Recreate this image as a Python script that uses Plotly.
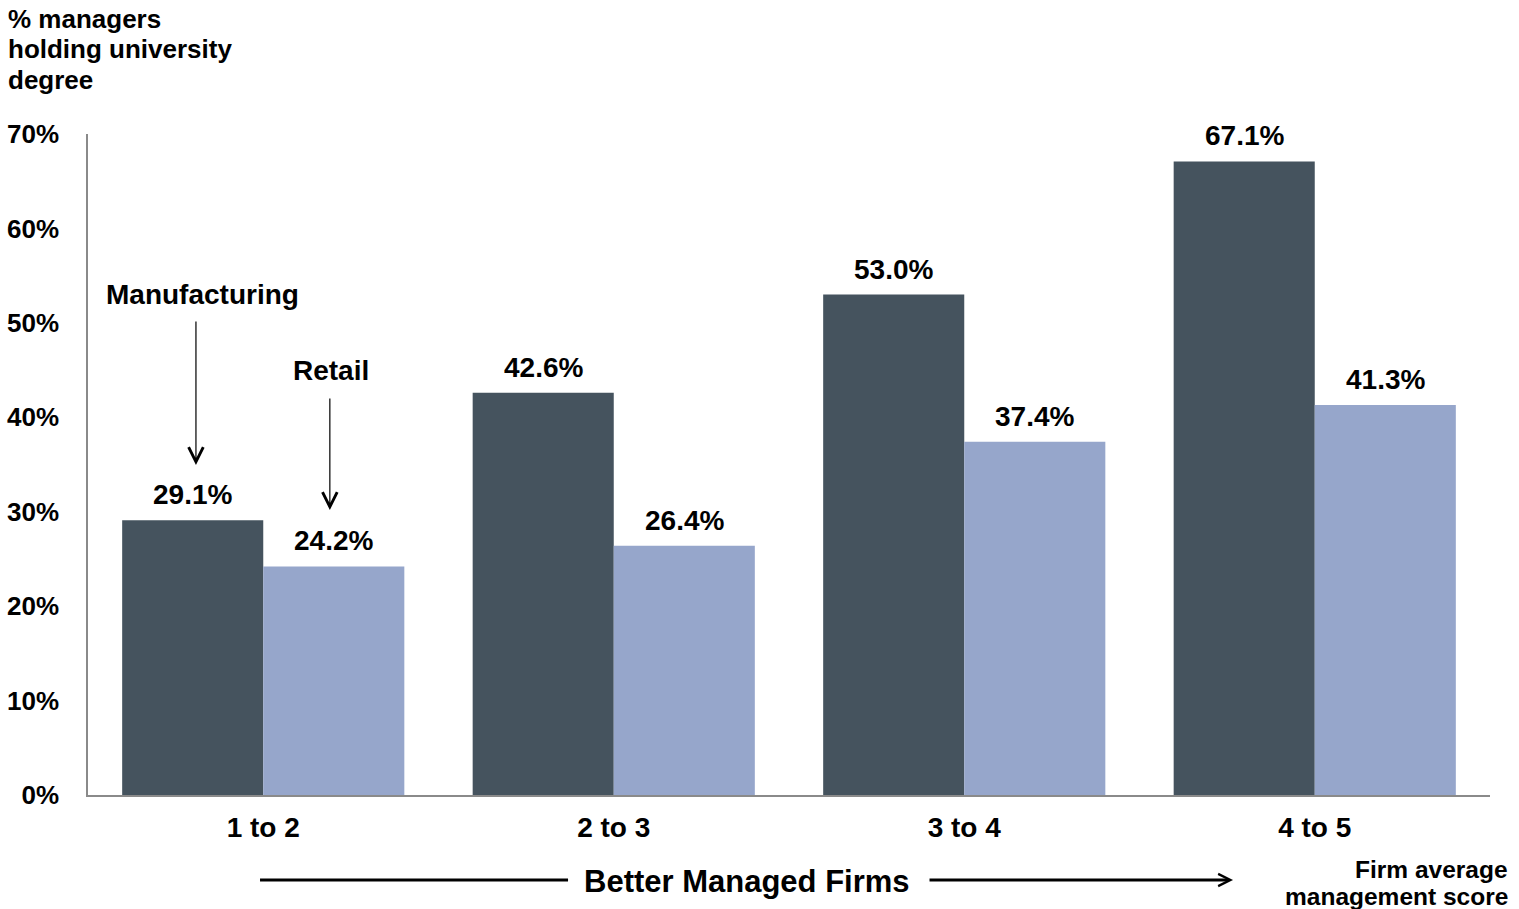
import plotly.graph_objects as go

# Data
categories = ["1 to 2", "2 to 3", "3 to 4", "4 to 5"]
manufacturing = [29.1, 42.6, 53.0, 67.1]
retail = [24.2, 26.4, 37.4, 41.3]
y_ticks = [0, 10, 20, 30, 40, 50, 60, 70]
y_tick_text = [f"{v}%" for v in y_ticks]

DARK = "#45535e"
LIGHT = "#96a6cb"
AXIS = "#8a8a8a"
FONT = "Liberation Sans, Arial, sans-serif"
BARGAP = 0.195


def bold(size):
    return dict(family=FONT, size=size, color="black", weight="bold")


fig = go.Figure()
fig.add_trace(go.Bar(name="Manufacturing", x=categories, y=manufacturing,
                     marker=dict(color=DARK, line=dict(width=0))))
fig.add_trace(go.Bar(name="Retail", x=categories, y=retail,
                     marker=dict(color=LIGHT, line=dict(width=0))))

annotations = []
half = (1 - BARGAP) / 4  # centre offset of each bar inside its group
for i, (m, r) in enumerate(zip(manufacturing, retail)):
    for xv, val in ((i - half, m), (i + half, r)):
        annotations.append(dict(x=xv, y=val, xref="x", yref="y", text=f"{val:.1f}%",
                                showarrow=False, yanchor="bottom", yshift=8, font=bold(28)))

# Series callouts with arrows
annotations += [
    dict(x=-0.172, y=53.05, xref="x", yref="y", text="Manufacturing", showarrow=False,
         yanchor="middle", font=bold(28)),
    dict(x=0.193, y=45.0, xref="x", yref="y", text="Retail", showarrow=False,
         yanchor="middle", font=bold(28)),
    dict(x=-0.192, y=34.95, ax=-0.192, ay=50.3, xref="x", yref="y", axref="x", ayref="y",
         text="", showarrow=True, arrowhead=5, arrowsize=2.4, arrowwidth=1.2, arrowcolor="black"),
    dict(x=0.19, y=30.18, ax=0.19, ay=42.15, xref="x", yref="y", axref="x", ayref="y",
         text="", showarrow=True, arrowhead=5, arrowsize=2.4, arrowwidth=1.2, arrowcolor="black"),
]

# Y-axis caption
for yp, line in zip([1.174, 1.1286, 1.0817], ["% managers", "holding university", "degree"]):
    annotations.append(dict(x=-0.0585, y=yp, xref="paper", yref="paper", text=line,
                            showarrow=False, xanchor="left", yanchor="middle", font=bold(26)))

# Bottom caption and direction arrow
annotations += [
    dict(x=0.470, y=-0.1316, xref="paper", yref="paper", text="Better Managed Firms",
         showarrow=False, yanchor="middle", font=bold(31)),
    dict(x=0.8167, y=-0.1286, xref="paper", yref="paper", ax=-305, ay=0,
         axref="pixel", ayref="pixel", text="", showarrow=True, arrowhead=5,
         arrowsize=0.8, arrowwidth=3, arrowcolor="black"),
    dict(x=1.0143, y=-0.112, xref="paper", yref="paper", text="Firm average",
         showarrow=False, xanchor="right", yanchor="middle", font=bold(24.5)),
    dict(x=1.0143, y=-0.1543, xref="paper", yref="paper", text="management score",
         showarrow=False, xanchor="right", yanchor="middle", font=bold(24.5)),
]

shapes = [
    dict(type="line", xref="paper", yref="paper", x0=0.1227, x1=0.3424, y0=-0.1286, y1=-0.1286,
         line=dict(color="black", width=3)),
]

fig.update_layout(
    width=1519, height=909,
    margin=dict(l=88, r=29, t=134, b=114, autoexpand=False),
    paper_bgcolor="white", plot_bgcolor="white",
    barmode="group", bargap=BARGAP, bargroupgap=0,
    showlegend=False,
    annotations=annotations, shapes=shapes,
    font=dict(family=FONT, color="black"),
)
fig.update_xaxes(showline=True, linecolor=AXIS, linewidth=1.5, showgrid=False, ticks="",
                 tickfont=bold(28), ticklabelstandoff=7, automargin=False)
fig.update_yaxes(range=[0, 70], tickvals=y_ticks, ticktext=y_tick_text, showline=True,
                 linecolor=AXIS, linewidth=1.5, showgrid=False, zeroline=False, ticks="",
                 tickfont=bold(26), ticklabelstandoff=22, automargin=False)

fig.write_html("out.html")
